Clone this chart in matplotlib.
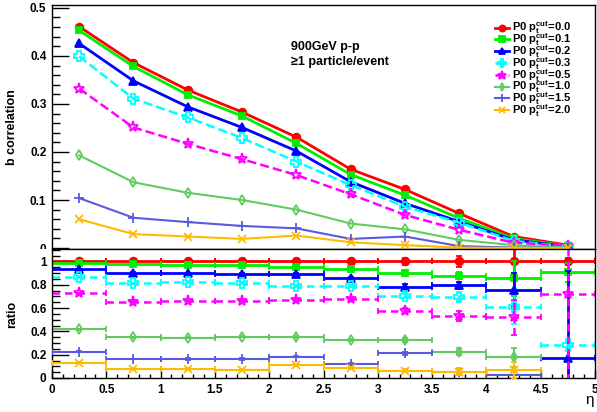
import matplotlib
matplotlib.use("Agg")
import matplotlib.pyplot as plt
import numpy as np
from matplotlib.patches import Rectangle
from matplotlib.ticker import MultipleLocator

plt.rcParams["font.family"] = ["Liberation Sans", "DejaVu Sans"]
plt.rcParams["font.weight"] = "bold"
plt.rcParams["mathtext.fontset"] = "custom"
plt.rcParams["mathtext.bf"] = "Liberation Sans:bold"
plt.rcParams["mathtext.rm"] = "Liberation Sans:bold"
plt.rcParams["mathtext.it"] = "Liberation Sans:bold"
plt.rcParams["mathtext.default"] = "bf"

# eta bin centres and p_T cuts
eta = [0.25, 0.75, 1.25, 1.75, 2.25, 2.75, 3.25, 3.75, 4.25, 4.75]
cuts = ["0.0", "0.1", "0.2", "0.3", "0.5", "1.0", "1.5", "2.0"]

# b correlation per cut
corr_00 = [0.461, 0.386, 0.329, 0.283, 0.231, 0.164, 0.122, 0.072, 0.024, 0.006]
corr_01 = [0.453, 0.378, 0.319, 0.275, 0.218, 0.153, 0.110, 0.062, 0.020, 0.004]
corr_02 = [0.426, 0.348, 0.294, 0.251, 0.202, 0.138, 0.093, 0.055, 0.017, 0.003]
corr_03 = [0.399, 0.311, 0.272, 0.229, 0.180, 0.131, 0.086, 0.053, 0.015, 0.003]
corr_05 = [0.332, 0.251, 0.217, 0.185, 0.152, 0.112, 0.069, 0.038, 0.011, 0.005]
corr_10 = [0.193, 0.137, 0.115, 0.100, 0.080, 0.051, 0.039, 0.017, 0.006, 0.001]
corr_15 = [0.104, 0.063, 0.054, 0.046, 0.041, 0.019, 0.024, 0.004, 0.001, 0.0]
corr_20 = [0.060, 0.029, 0.024, 0.019, 0.026, 0.012, 0.006, 0.001, 0.0, 0.0]

# ratio to the no-cut sample
ratio_00 = [1.0, 1.0, 1.0, 1.0, 1.0, 1.0, 1.0, 1.0, 1.0, 1.0]
ratio_01 = [0.99, 0.979, 0.970, 0.970, 0.955, 0.933, 0.904, 0.876, 0.856, 0.907]
ratio_02 = [0.933, 0.904, 0.898, 0.890, 0.890, 0.856, 0.784, 0.798, 0.755, 0.169]
ratio_03 = [0.870, 0.813, 0.827, 0.818, 0.790, 0.790, 0.707, 0.693, 0.612, 0.283]
ratio_05 = [0.727, 0.655, 0.664, 0.664, 0.670, 0.678, 0.578, 0.532, 0.521, 0.721]
ratio_10 = [0.418, 0.349, 0.346, 0.355, 0.349, 0.326, 0.326, 0.226, 0.178, np.nan]
ratio_15 = [0.226, 0.163, 0.163, 0.163, 0.183, 0.120, 0.212, 0.054, 0.026, np.nan]
ratio_20 = [0.131, 0.077, 0.077, 0.069, 0.112, 0.083, 0.063, 0.054, 0.069, np.nan]

# statistical errors on the ratios
rerr_00 = [0.005, 0.005, 0.005, 0.006, 0.008, 0.012, 0.03, 0.05, 0.15, 0.03]
rerr_01 = [0.005, 0.005, 0.006, 0.007, 0.009, 0.012, 0.02, 0.03, 0.15, 0.08]
rerr_02 = [0.005, 0.005, 0.006, 0.007, 0.009, 0.012, 0.02, 0.03, 0.15, 0.75]
rerr_03 = [0.005, 0.005, 0.006, 0.007, 0.009, 0.012, 0.02, 0.04, 0.15, 0.05]
rerr_05 = [0.005, 0.005, 0.006, 0.007, 0.009, 0.012, 0.02, 0.04, 0.15, 0.75]
rerr_10 = [0.005, 0.005, 0.006, 0.007, 0.009, 0.012, 0.015, 0.03, 0.08, 0.0]
rerr_15 = [0.004, 0.004, 0.005, 0.006, 0.007, 0.010, 0.012, 0.02, 0.03, 0.0]
rerr_20 = [0.004, 0.004, 0.005, 0.006, 0.007, 0.010, 0.012, 0.03, 0.07, 0.0]

corr = [corr_00, corr_01, corr_02, corr_03, corr_05, corr_10, corr_15, corr_20]
ratio = [ratio_00, ratio_01, ratio_02, ratio_03, ratio_05, ratio_10, ratio_15, ratio_20]
rerr = [rerr_00, rerr_01, rerr_02, rerr_03, rerr_05, rerr_10, rerr_15, rerr_20]

colors = ["#ff0000", "#00ee00", "#0000ff", "#00ffff", "#ff00ff", "#60cc60", "#5a5ae0", "#ffbb00"]
markers = ["o", "s", "^", "P", "*", "d", "+", "x"]
filled = [True, True, True, False, False, False, True, True]
msizes = [5.5, 5, 5.5, 6.5, 8, 5, 6.5, 6]
styles = ["-", "-", "-", "--", "--", "-", "-", "-"]
widths = [2.0, 2.0, 2.0, 1.8, 1.8, 1.5, 1.5, 1.5]

W, H = 597, 412
fig = plt.figure(figsize=(W / 100, H / 100), dpi=100)
ax1 = fig.add_axes([52 / W, 1 - 249 / H, 543 / W, 244 / H])
ax2 = fig.add_axes([52 / W, 1 - 378 / H, 543 / W, 129 / H])
ax2.set_zorder(1)


def _label(v, pos):
    return "0" if abs(v) < 1e-9 else f"{v:g}"


def _style(ax, ymajor, yminor, ylen):
    ax.yaxis.set_major_locator(MultipleLocator(ymajor))
    ax.yaxis.set_minor_locator(MultipleLocator(yminor))
    ax.xaxis.set_major_locator(MultipleLocator(0.5))
    ax.xaxis.set_minor_locator(MultipleLocator(0.1))
    ax.yaxis.set_major_formatter(_label)
    ax.xaxis.set_major_formatter(_label)
    ax.tick_params(axis="y", which="major", direction="in", length=ylen, width=1, labelsize=8.5, pad=4)
    ax.tick_params(axis="y", which="minor", direction="in", length=ylen / 2, width=1)
    ax.tick_params(axis="x", which="major", direction="in", length=6, width=1, labelsize=8.5, pad=4)
    ax.tick_params(axis="x", which="minor", direction="in", length=3, width=1)
    for spine in ax.spines.values():
        spine.set_linewidth(1)
    ax.set_xlim(0, 5)


_style(ax1, 0.1, 0.02, 12)
ax1.set_ylim(-0.002, 0.506)
ax1.tick_params(axis="x", which="both", bottom=False, labelbottom=False)

_style(ax2, 0.2, 0.05, 12)
ax2.set_ylim(0, 1.107)

# white strip so the upper "0" label is cut at the pad edge
ax2.add_patch(Rectangle((0, 0), 52 / W, (412 - 249) / H, transform=fig.transFigure,
                        facecolor="white", edgecolor="none", clip_on=False, zorder=0.5))

for i, cut in enumerate(cuts):
    face = colors[i] if filled[i] else "none"
    label = r"P0 $p_{t}^{cut}$=" + cut
    ax1.plot(eta, corr[i], color=colors[i], ls=styles[i], lw=widths[i], marker=markers[i],
             ms=msizes[i], mfc=face, mec=colors[i], mew=1.3, label=label, zorder=2 + i * 0.1)
    cont = ax2.errorbar(eta, ratio[i], xerr=0.25, yerr=rerr[i], color=colors[i], ls="none",
                        elinewidth=widths[i], capsize=2, capthick=1.2, marker=markers[i],
                        ms=msizes[i], mfc=face, mec=colors[i], mew=1.3, zorder=2 + i * 0.1)
    if styles[i] == "--":
        for bars in cont[2]:
            bars.set_linestyle((0, (3, 2)))

ax1.text(2.2, 0.418, "900GeV p-p", fontsize=9, fontweight="bold", va="center")
ax1.text(2.2, 0.387, "≥1 particle/event", fontsize=9, fontweight="bold", va="center")

leg = ax1.legend(loc="upper left", bbox_to_anchor=(443 / 543, 0.94), frameon=False,
                 fontsize=8, handlelength=1.3, handletextpad=0.2, labelspacing=-0.45,
                 borderaxespad=0, borderpad=0, markerscale=0.8)

fig.text(12 / W, 1 - 127 / H, "b correlation", rotation=90, ha="center", va="center",
         fontsize=9, fontweight="bold")
fig.text(12 / W, 1 - 314 / H, "ratio", rotation=90, ha="center", va="center",
         fontsize=9, fontweight="bold")
fig.text(590 / W, 1 - 400 / H, "η", ha="center", va="center", fontsize=11, fontweight="normal")

fig.savefig("out.png", dpi=100)
